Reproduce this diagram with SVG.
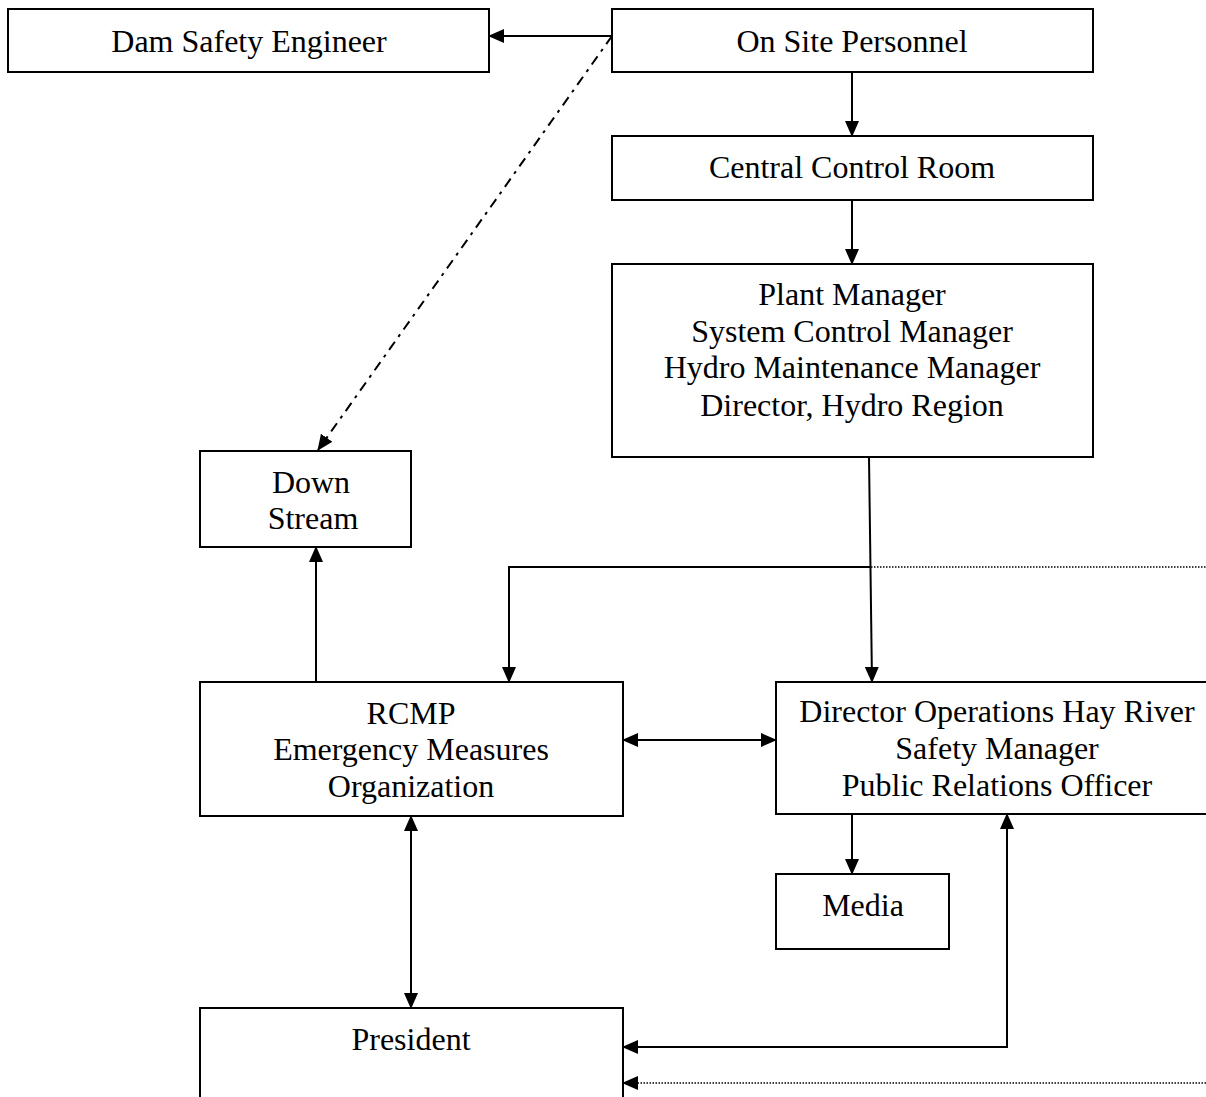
<svg xmlns="http://www.w3.org/2000/svg" width="1206" height="1097" viewBox="0 0 1206 1097">
<style>
.box{fill:#fff;stroke:#000;stroke-width:2}
.t{font-family:"Liberation Serif","Times New Roman",serif;font-size:32px;fill:#000;text-anchor:middle}
.c{fill:none;stroke:#000;stroke-width:2}
.dot{fill:none;stroke:#000;stroke-width:1.5;stroke-dasharray:1.5 1.5}
.dd{fill:none;stroke:#000;stroke-width:2;stroke-dasharray:10 6 3 6}
</style>
<defs>
<marker id="a" markerUnits="userSpaceOnUse" markerWidth="16" markerHeight="14" refX="15" refY="7" orient="auto-start-reverse" viewBox="0 0 16 14">
<path d="M0,0 L16,7 L0,14 z" fill="#000"/>
</marker>
</defs>
<rect width="1206" height="1097" fill="#fff"/>
<g id="dam-safety-engineer"><rect class="box" x="8" y="9" width="481" height="63"/><text class="t" x="249" y="52">Dam Safety Engineer</text></g>
<g id="on-site-personnel"><rect class="box" x="612" y="9" width="481" height="63"/><text class="t" x="852" y="52">On Site Personnel</text></g>
<g id="central-control-room"><rect class="box" x="612" y="136" width="481" height="64"/><text class="t" x="852" y="178">Central Control Room</text></g>
<g id="plant-manager"><rect class="box" x="612" y="264" width="481" height="193"/>
<text class="t" x="852" y="305">Plant Manager</text>
<text class="t" x="852" y="342">System Control Manager</text>
<text class="t" x="852" y="378">Hydro Maintenance Manager</text>
<text class="t" x="852" y="416">Director, Hydro Region</text></g>
<g id="down-stream"><rect class="box" x="200" y="451" width="211" height="96"/>
<text class="t" x="311" y="493">Down</text><text class="t" x="313" y="529">Stream</text></g>
<g id="rcmp"><rect class="box" x="200" y="682" width="423" height="134"/>
<text class="t" x="411" y="724">RCMP</text>
<text class="t" x="411" y="760">Emergency Measures</text>
<text class="t" x="411" y="797">Organization</text></g>
<g id="director-operations"><rect class="box" x="776" y="682" width="444" height="132"/>
<text class="t" x="997" y="722">Director Operations Hay River</text>
<text class="t" x="997" y="759">Safety Manager</text>
<text class="t" x="997" y="796">Public Relations Officer</text></g>
<g id="media"><rect class="box" x="776" y="874" width="173" height="75"/><text class="t" x="863" y="916">Media</text></g>
<g id="president"><rect class="box" x="200" y="1008" width="423" height="110"/><text class="t" x="411" y="1050">President</text></g>
<g id="connectors">
<line class="c" x1="612" y1="36" x2="489" y2="36" marker-end="url(#a)"/>
<line class="dd" x1="612" y1="36" x2="318" y2="450" marker-end="url(#a)"/>
<line class="c" x1="852" y1="72" x2="852" y2="136" marker-end="url(#a)"/>
<line class="c" x1="852" y1="200" x2="852" y2="264" marker-end="url(#a)"/>
<line class="c" x1="869" y1="457" x2="872" y2="682" marker-end="url(#a)"/>
<polyline class="c" points="870,567 509,567 509,682" marker-end="url(#a)"/>
<line class="dot" x1="871" y1="567" x2="1206" y2="567"/>
<line class="c" x1="623" y1="740" x2="776" y2="740" marker-start="url(#a)" marker-end="url(#a)"/>
<line class="c" x1="316" y1="682" x2="316" y2="547" marker-end="url(#a)"/>
<line class="c" x1="411" y1="816" x2="411" y2="1008" marker-start="url(#a)" marker-end="url(#a)"/>
<line class="c" x1="852" y1="814" x2="852" y2="874" marker-end="url(#a)"/>
<polyline class="c" points="1007,814 1007,1047 623,1047" marker-start="url(#a)" marker-end="url(#a)"/>
<line class="dot" x1="1206" y1="1083" x2="623" y2="1083" marker-end="url(#a)"/>
</g>
</svg>
